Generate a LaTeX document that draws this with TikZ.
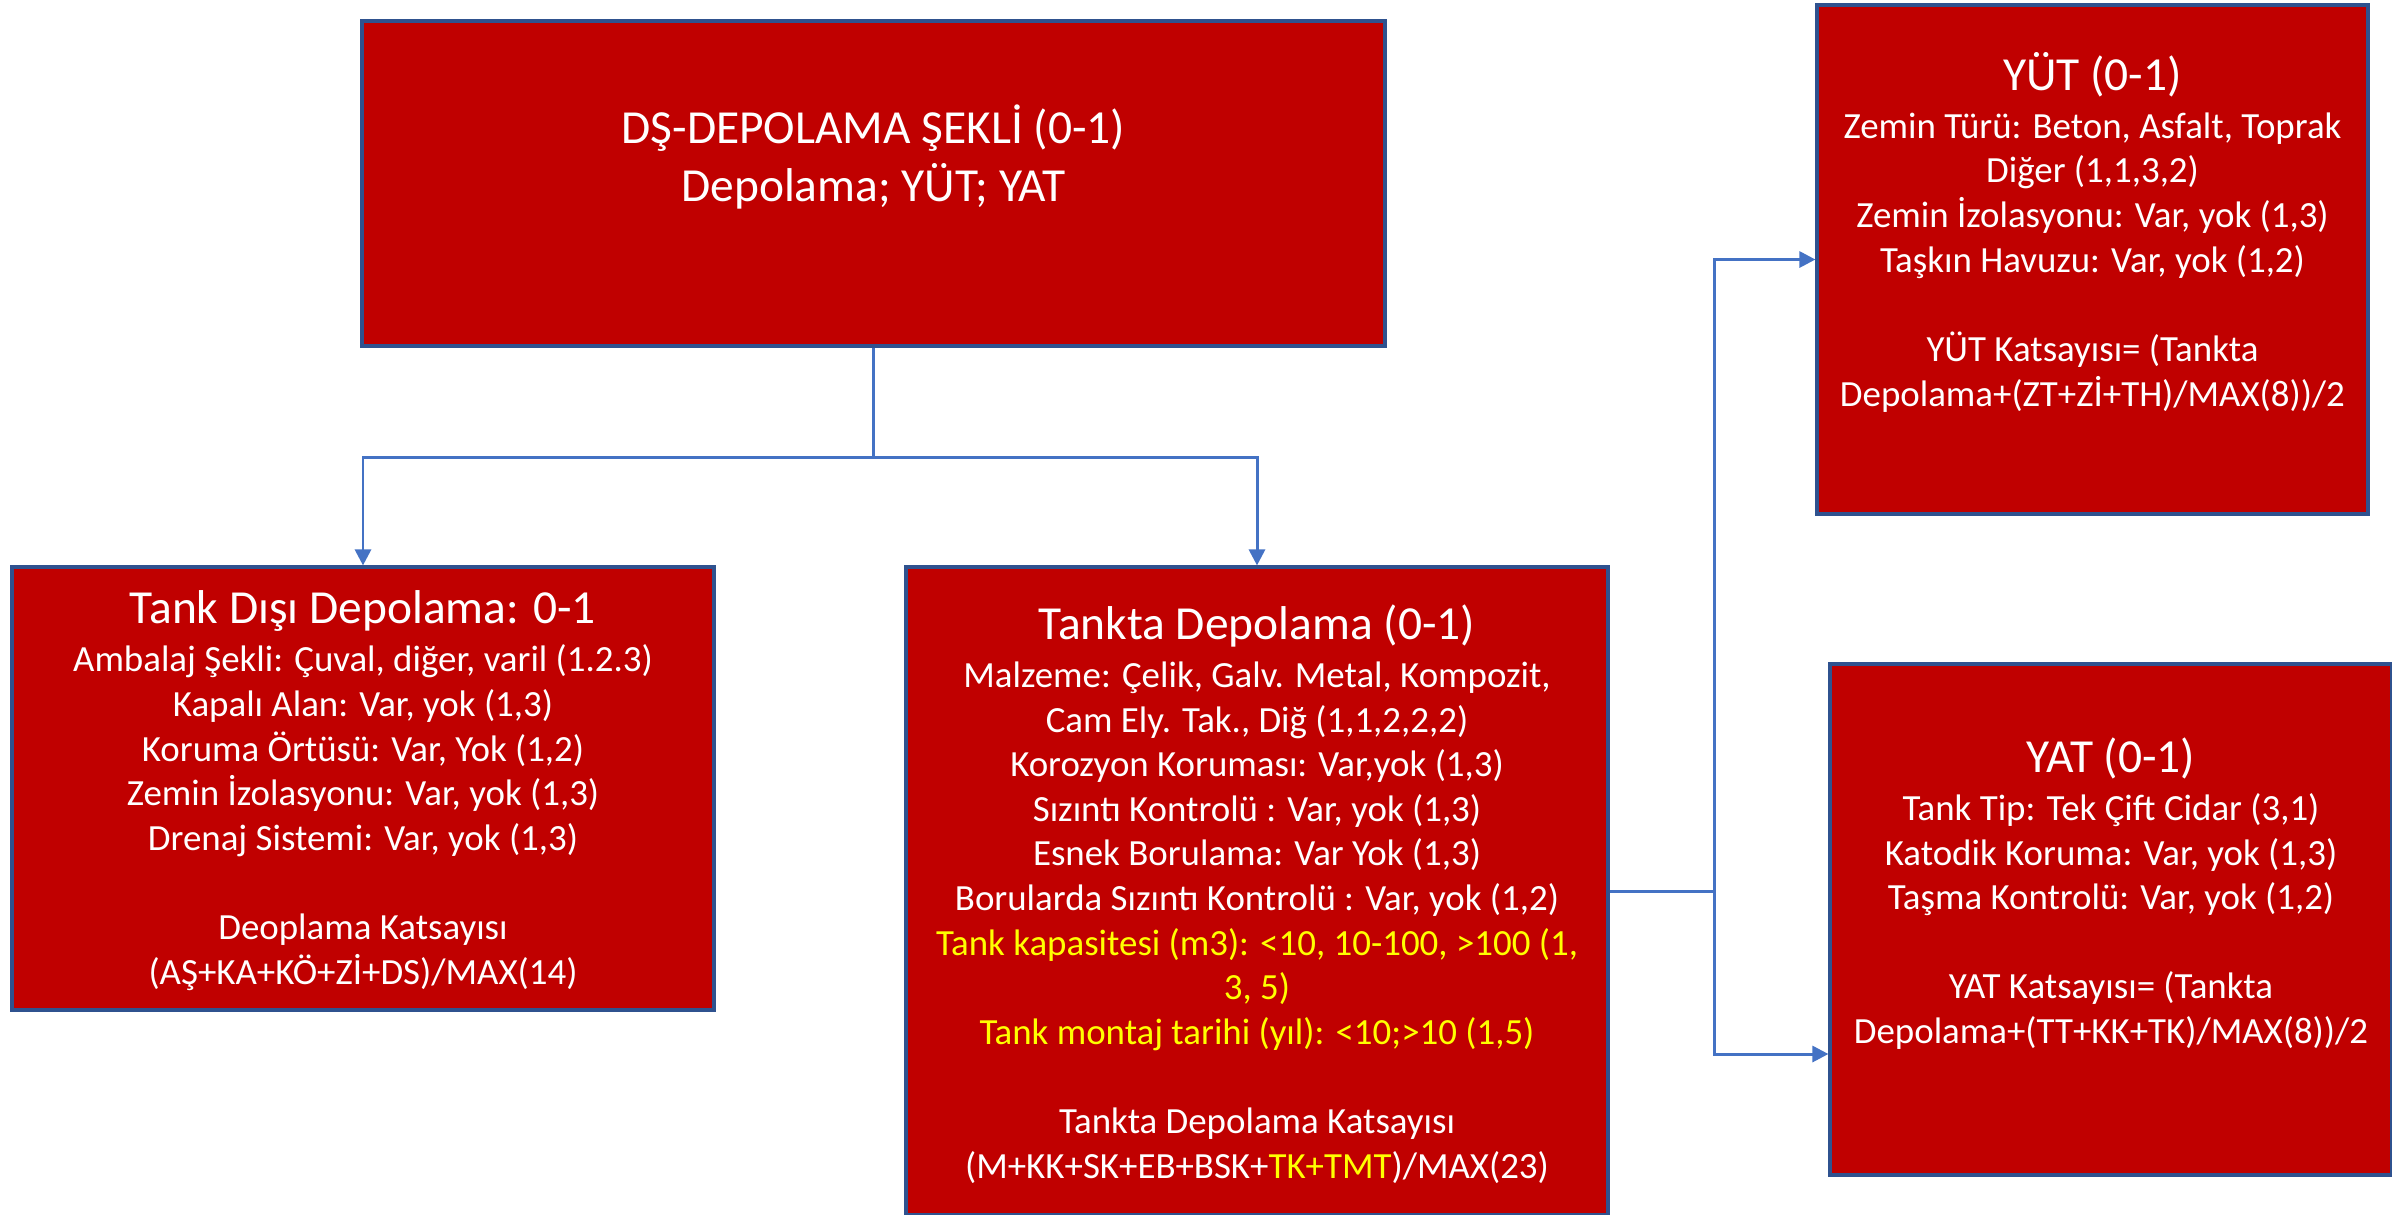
\documentclass[tikz,border=0pt]{standalone}
\usepackage{fontspec}
\setmainfont{Carlito}
\usetikzlibrary{arrows.meta}
\definecolor{boxred}{HTML}{C00000}
\definecolor{boxline}{HTML}{2F528F}
\definecolor{linkblue}{HTML}{4472C4}
\definecolor{hiyellow}{HTML}{FFFF00}
\newcommand{\bodysize}{\fontsize{10.5}{12.7}\selectfont}
\newcommand{\headsize}{\fontsize{13.5}{16.5}\selectfont}

\begin{document}
\begin{tikzpicture}[
    box/.style={draw=boxline, line width=0.9pt, fill=boxred, inner sep=0pt},
    txt/.style={text=white, align=center, font=\bodysize, inner sep=0pt},
    link/.style={draw=linkblue, line width=0.85pt},
    arr/.style={link, -{Triangle[length=1.6mm,width=1.6mm]}}
]
    \clip (0,0) rectangle (23.92,-12.14);
    \useasboundingbox (0,0) rectangle (23.92,-12.14);

    \node[box, minimum width=10.23cm, minimum height=3.25cm] (top) at (8.735,-1.835) {};
    \node[box, minimum width=7.02cm, minimum height=4.43cm] (dis) at (3.63,-7.885) {};
    \node[box, minimum width=7.02cm, minimum height=6.48cm] (tank) at (12.57,-8.91) {};
    \node[box, minimum width=5.51cm, minimum height=5.09cm] (yut) at (20.925,-2.595) {};
    \node[box, minimum width=5.62cm, minimum height=5.11cm] (yat) at (21.11,-9.195) {};

    \node[txt, font=\headsize] (toptxt) at ([yshift=2.65mm]top.center)
        {DŞ-DEPOLAMA ŞEKLİ (0-1)\\Depolama; YÜT; YAT};
    \node[txt] (distxt) at ([yshift=-0.2mm]dis.center)
        {{\headsize Tank Dışı Depolama: 0-1}\\[1pt]
        Ambalaj Şekli: Çuval, diğer, varil (1.2.3)\\
        Kapalı Alan: Var, yok (1,3)\\
        Koruma Örtüsü: Var, Yok (1,2)\\
        Zemin İzolasyonu: Var, yok (1,3)\\
        Drenaj Sistemi: Var, yok (1,3)\\[12.7pt]
        Deoplama Katsayısı\\
        (AŞ+KA+KÖ+Zİ+DS)/MAX(14)};
    \node[txt] (tanktxt) at ([yshift=-0.3mm]tank.center)
        {{\headsize Tankta Depolama (0-1)}\\[1pt]
        Malzeme: Çelik, Galv. Metal, Kompozit,\\
        Cam Ely. Tak., Diğ (1,1,2,2,2)\\
        Korozyon Koruması: Var,yok (1,3)\\
        Sızıntı Kontrolü : Var, yok (1,3)\\
        Esnek Borulama: Var Yok (1,3)\\
        Borularda Sızıntı Kontrolü : Var, yok (1,2)\\
        \textcolor{hiyellow}{Tank kapasitesi (m3): <10, 10-100, >100 (1,}\\
        \textcolor{hiyellow}{3, 5)}\\
        \textcolor{hiyellow}{Tank montaj tarihi (yıl): <10;>10 (1,5)}\\[12.7pt]
        Tankta Depolama Katsayısı\\
        (M+KK+SK+EB+BSK+\textcolor{hiyellow}{TK+TMT})/MAX(23)};
    \node[txt] (yuttxt) at ([yshift=2.75mm]yut.center)
        {{\headsize YÜT (0-1)}\\[1pt]
        Zemin Türü: Beton, Asfalt, Toprak\\
        Diğer (1,1,3,2)\\
        Zemin İzolasyonu: Var, yok (1,3)\\
        Taşkın Havuzu: Var, yok (1,2)\\[12.7pt]
        YÜT Katsayısı= (Tankta\\
        Depolama+(ZT+Zİ+TH)/MAX(8))/2};
    \node[txt] (yattxt) at ([yshift=2.6mm]yat.center)
        {{\headsize YAT (0-1)}\\[1pt]
        Tank Tip: Tek Çift Cidar (3,1)\\
        Katodik Koruma: Var, yok (1,3)\\
        Taşma Kontrolü: Var, yok (1,2)\\[12.7pt]
        YAT Katsayısı= (Tankta\\
        Depolama+(TT+KK+TK)/MAX(8))/2};

    \draw[arr] (top.south) -- ++(0,-1.1) -| (dis.north);
    \draw[arr] (top.south) -- ++(0,-1.1) -| (tank.north);

    \draw[link] (tank.east) -- ++(1.05,0) coordinate (split);
    \coordinate (yatin) at ([yshift=-13.45mm]yat.west);
    \draw[arr] (split) |- (yut.west);
    \draw[arr] (split) |- (yatin);
\end{tikzpicture}
\end{document}
